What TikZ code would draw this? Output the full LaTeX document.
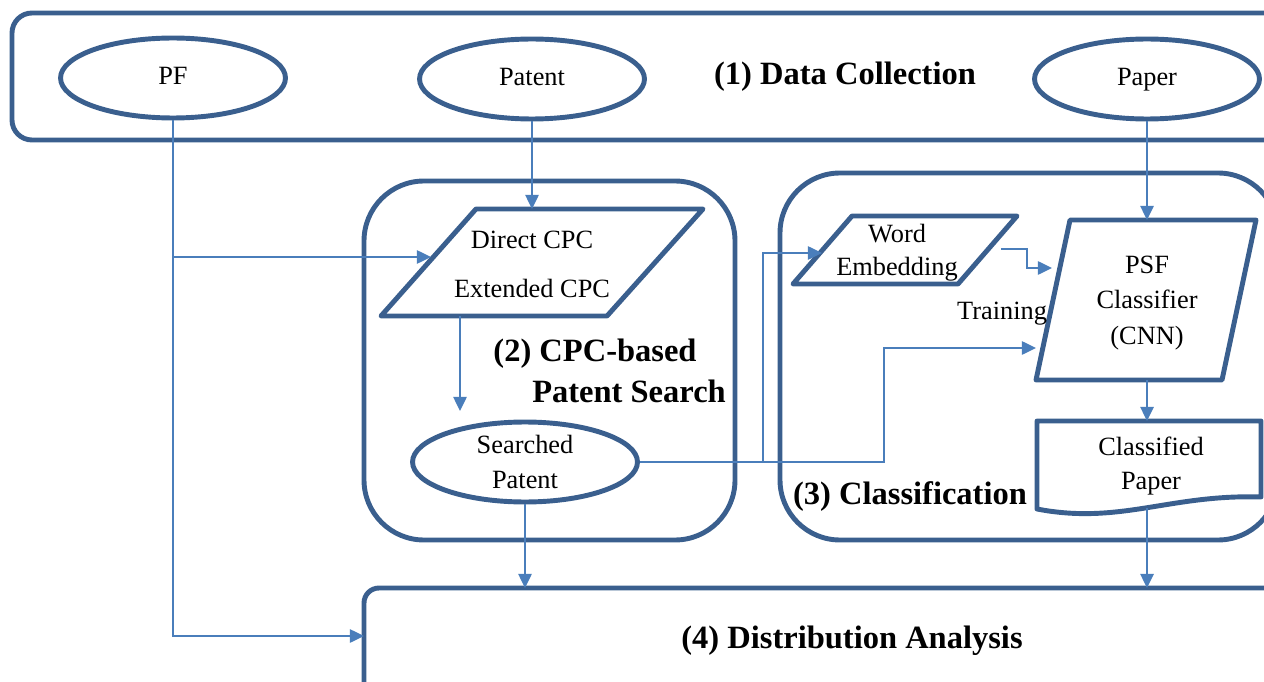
\documentclass[tikz,border=0pt]{standalone}
\usepackage{fontspec}
\setmainfont{Liberation Serif}
\usetikzlibrary{arrows.meta,shapes.geometric}
\definecolor{boxblue}{HTML}{3A5F8E}
\definecolor{arrblue}{HTML}{4A7EBB}
\tikzset{
  frame/.style={draw=boxblue,line width=2.8pt},
  ell/.style={ellipse,draw=boxblue,line width=2.8pt,fill=white,minimum width=4.5cm,minimum height=1.6cm,inner sep=0pt,font=\fontsize{15}{18}\selectfont,align=center},
  txt/.style={font=\fontsize{15}{18}\selectfont,align=center,inner sep=0pt},
  title/.style={font=\fontsize{18.5}{22}\selectfont\bfseries,align=center,inner sep=0pt},
  conn/.style={draw=arrblue,line width=1.2pt,-{Triangle[length=8pt,width=7.5pt]}},
  plain/.style={draw=arrblue,line width=1.2pt}
}
\begin{document}
\begin{tikzpicture}[x=0.02cm,y=-0.02cm]
\useasboundingbox (0,0) rectangle (1264,682);
\clip (0,0) rectangle (1264,682);
% frames
\draw[frame,rounded corners=0.4cm] (12,13) rectangle (1300,140);
\draw[frame,rounded corners=1.2cm] (364,181) rectangle (735,540);
\draw[frame,rounded corners=1.2cm] (780,173) rectangle (1278,540);
\draw[frame,rounded corners=0.3cm] (364,588) rectangle (1300,720);
% ellipses
\node[ell] (pf) at (173,78) {\strut PF};
\node[ell] (patent) at (532,79) {\strut Patent};
\node[ell] (paper) at (1147,79) {\strut Paper};
\node[ell] (sp) at (525,462) {Searched\\[2pt]Patent};
% CPC parallelogram
\coordinate (c1) at (476,209); \coordinate (c2) at (703,209);
\coordinate (c3) at (607,316); \coordinate (c4) at (381,316);
\draw[frame,line join=round] (c1) -- (c2) -- (c3) -- (c4) -- cycle;
\node[txt] (dcpc) at (532,240) {Direct CPC};
\node[txt] (ecpc) at (532,288) {Extended CPC};
\coordinate (cpctop) at (532,209);
\coordinate (cpcleft) at (431,257);
\coordinate (cpcbot) at (460,316);
% Word embedding parallelogram
\coordinate (w1) at (852,216); \coordinate (w2) at (1017,216);
\coordinate (w3) at (958,284); \coordinate (w4) at (793,284);
\draw[frame,line join=round] (w1) -- (w2) -- (w3) -- (w4) -- cycle;
\node[txt] (we) at (897,253) {Word\\[1pt]Embedding};
\coordinate (weleft) at (822,253);
\coordinate (weright) at (1001,249);
% PSF classifier
\coordinate (p1) at (1070,220); \coordinate (p2) at (1256,220);
\coordinate (p3) at (1222,380); \coordinate (p4) at (1036,380);
\draw[frame,line join=round] (p1) -- (p2) -- (p3) -- (p4) -- cycle;
\node[txt] (psf) at (1147,303) {PSF\\[2pt]Classifier\\[2pt](CNN)};
\coordinate (psftop) at (1147,220);
\coordinate (psfbot) at (1147,380);
\coordinate (psfin1) at (1052,268);
\coordinate (psfin2) at (1036,348);
% Classified paper
\draw[frame,line join=round] (1037,421) -- (1261,421) -- (1261,497)
  .. controls (1170,494) and (1120,525) .. (1037,509) -- cycle;
\node[txt] (cp) at (1151,466) {Classified\\[1pt]Paper};
\coordinate (cptop) at (1147,421);
\coordinate (cpbot) at (1147,508);
% titles
\node[title] (t1) at (845,77) {(1) Data Collection};
\node[title] (t2a) at (595,354) {(2) CPC-based};
\node[title] (t2b) at (629,391) {Patent Search};
\node[title] (t3) at (910,497) {(3) Classification};
\node[title] (t4) at (852,641) {(4) Distribution Analysis};
\node[txt] (train) at (1002,314) {Training};
% box 4 entry points
\coordinate (b4left) at (364,636);
\coordinate (b4a) at (525,588);
\coordinate (b4b) at (1147,588);
\coordinate (pfbranch) at (173,257);
\coordinate (spj) at (763,462);
\coordinate (sp2) at (884,462);
% connectors
\draw[conn] (pf.south) -- (173,636) -- (b4left);
\draw[conn] (pfbranch) -- (cpcleft);
\draw[conn] (patent.south) -- (cpctop);
\draw[conn] (paper.south) -- (psftop);
\draw[conn] (cpcbot) -- (460,411);
\draw[plain] (sp.east) -- (spj);
\draw[conn] (spj) |- (weleft);
\draw[conn] (spj) -- (sp2) |- (psfin2);
\draw[conn] (weright) -- (1027,249) -- (1027,268) -- (psfin1);
\draw[conn] (psfbot) -- (cptop);
\draw[conn] (cpbot) -- (b4b);
\draw[conn] (sp.south) -- (b4a);
\end{tikzpicture}
\end{document}
